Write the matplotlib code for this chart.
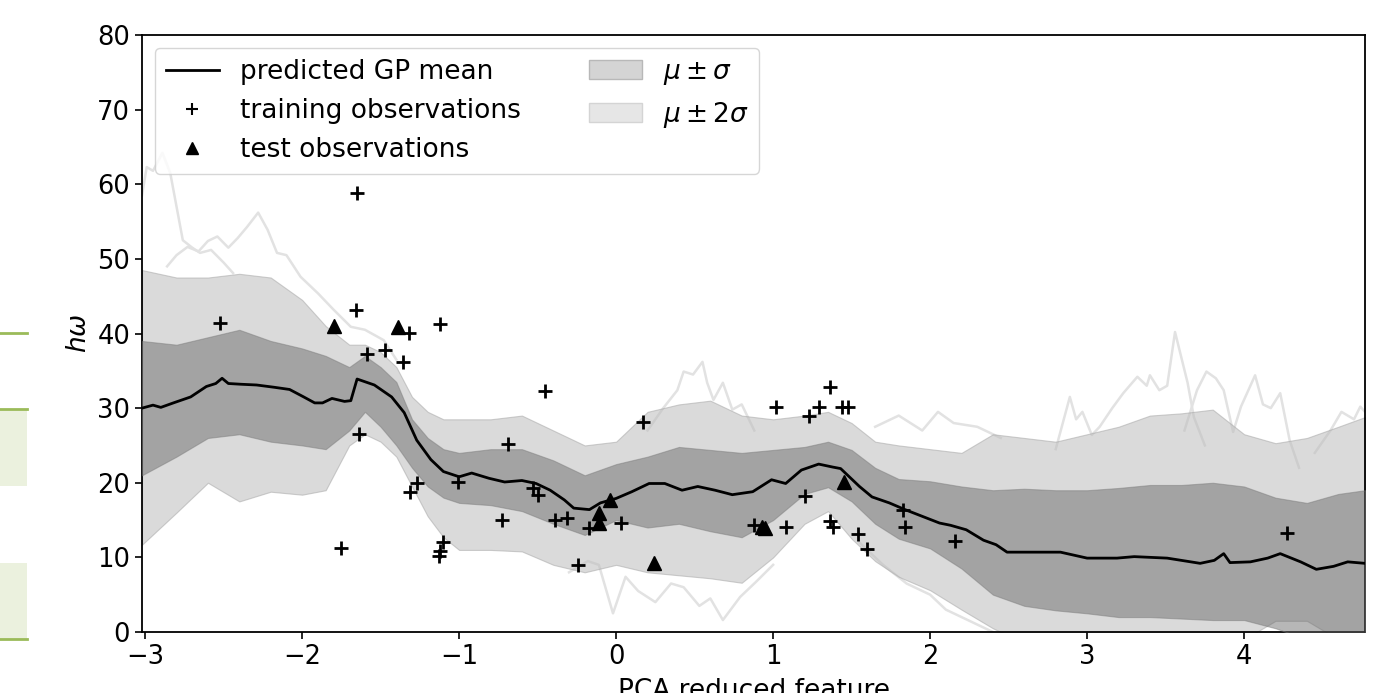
import matplotlib
matplotlib.use("Agg")
import matplotlib.pyplot as plt
from matplotlib.lines import Line2D
from matplotlib.patches import Patch, Rectangle

# ---------------- data ----------------
mean_x = [-3.02, -2.95, -2.9, -2.82, -2.71, -2.61, -2.55, -2.51, -2.47, -2.39, -2.29, -2.18, -2.08,
          -1.99, -1.92, -1.87, -1.81, -1.73, -1.69, -1.65, -1.54, -1.43, -1.35, -1.27, -1.18, -1.1,
          -1.0, -0.92, -0.81, -0.71, -0.6, -0.51, -0.42, -0.33, -0.27, -0.17, -0.1, 0.0, 0.1, 0.21,
          0.31, 0.42, 0.52, 0.63, 0.74, 0.87, 0.99, 1.08, 1.18, 1.29, 1.38, 1.43, 1.55, 1.63, 1.74,
          1.84, 1.95, 2.06, 2.13, 2.23, 2.34, 2.42, 2.49, 2.66, 2.83, 3.0, 3.19, 3.3, 3.51, 3.72,
          3.81, 3.87, 3.91, 4.04, 4.15, 4.23, 4.36, 4.46, 4.57, 4.66, 4.77]
mean_y = [30.0, 30.4, 30.1, 30.7, 31.5, 32.9, 33.3, 34.0, 33.3, 33.2, 33.1, 32.8, 32.5,
          31.5, 30.7, 30.7, 31.3, 30.9, 31.0, 33.9, 33.1, 31.5, 29.4, 25.7, 23.1, 21.5,
          20.8, 21.3, 20.6, 20.1, 20.3, 19.9, 19.0, 17.7, 16.6, 16.4, 17.3, 17.9, 18.8, 19.9,
          19.9, 19.0, 19.5, 19.0, 18.4, 18.8, 20.4, 19.9, 21.7, 22.5, 22.1, 21.9, 19.5, 18.1, 17.3,
          16.4, 15.5, 14.6, 14.3, 13.7, 12.3, 11.7, 10.7, 10.7, 10.7, 9.9, 9.9, 10.1, 9.9, 9.2,
          9.6, 10.5, 9.3, 9.4, 9.9, 10.5, 9.4, 8.4, 8.8, 9.4, 9.2]

band_x = [-3.02, -2.8, -2.6, -2.4, -2.2, -2.0, -1.85, -1.7, -1.6, -1.5, -1.4, -1.3, -1.2, -1.1, -1.0,
          -0.8, -0.6, -0.4, -0.2, 0.0, 0.2, 0.4, 0.6, 0.8, 1.0, 1.2, 1.35, 1.5, 1.65, 1.8, 2.0, 2.2,
          2.4, 2.6, 2.8, 3.0, 3.2, 3.4, 3.6, 3.8, 4.0, 4.2, 4.4, 4.6, 4.77]
upper_2sigma = [48.5, 47.5, 47.5, 48.0, 47.5, 44.5, 41.0, 38.5, 38.5, 37.5, 35.5, 31.5, 29.5, 28.5, 28.5,
                28.5, 29.0, 27.0, 25.0, 25.5, 29.5, 30.5, 31.0, 29.0, 28.5, 29.0, 29.5, 28.0, 25.5, 25.0,
                24.5, 24.0, 26.5, 26.0, 25.5, 26.5, 27.5, 29.0, 29.3, 29.8, 26.5, 25.3, 26.0, 27.5, 28.8]
upper_1sigma = [39.0, 38.5, 39.5, 40.5, 39.0, 38.0, 37.0, 35.5, 37.0, 35.5, 33.5, 28.5, 26.0, 24.5, 24.0,
                24.5, 24.5, 23.0, 21.0, 22.5, 23.5, 24.8, 24.4, 24.0, 24.4, 24.8, 25.5, 24.4, 22.0, 20.5,
                20.2, 19.5, 19.0, 19.2, 19.0, 19.0, 19.3, 19.7, 19.7, 20.0, 19.5, 18.0, 17.3, 18.5, 19.0]
lower_1sigma = [21.0, 23.5, 26.0, 26.5, 25.5, 25.0, 24.5, 27.0, 29.5, 27.5, 25.0, 22.0, 19.5, 18.0, 17.3,
                17.0, 16.2, 14.5, 13.0, 15.0, 14.0, 14.5, 13.5, 12.7, 15.0, 18.5, 19.4, 17.5, 14.5, 12.5,
                11.2, 8.5, 5.0, 3.5, 2.9, 2.5, 2.0, 2.0, 1.8, 1.6, 1.6, 0.5, -1.0, -1.0, -0.5]
lower_2sigma = [11.7, 16.0, 20.0, 17.5, 18.8, 18.4, 19.0, 25.0, 26.5, 25.5, 23.5, 19.5, 15.5, 12.7, 11.0,
                11.0, 10.8, 9.0, 8.0, 9.0, 8.0, 7.6, 7.2, 6.6, 10.0, 14.5, 16.2, 12.5, 9.5, 7.4,
                5.6, 3.0, 0.5, -1.5, -3.0, -3.0, -3.0, -3.0, -3.0, -3.0, -1.0, 1.5, 1.5, -1.0, -3.0]

train_x = [-2.52, -1.65, -1.66, -1.75, -1.64, -1.59, -1.47, -1.32, -1.36, -1.12, -1.27, -1.31, -1.01,
           -1.10, -1.12, -1.13, -0.69, -0.45, -0.73, -0.53, -0.50, -0.39, -0.31, -0.24, -0.17, 0.03,
           0.17, 0.88, 1.02, 1.08, 1.20, 1.23, 1.29, 1.36, 1.44, 1.48, 1.36, 1.38, 1.54, 1.60, 1.83,
           1.84, 2.16, 4.27]
train_y = [41.4, 58.8, 43.2, 11.3, 26.5, 37.3, 37.8, 40.1, 36.2, 41.3, 20.0, 18.8, 20.1,
           12.1, 10.9, 10.2, 25.2, 32.3, 15.0, 19.3, 18.4, 15.0, 15.3, 9.0, 13.9, 14.6,
           28.2, 14.3, 30.2, 14.1, 18.2, 29.0, 30.2, 32.8, 30.2, 30.2, 14.9, 14.1, 13.1, 11.1, 16.4,
           14.1, 12.2, 13.3]

test_x = [-1.80, -1.39, -0.04, -0.11, -0.11, 0.24, 0.93, 0.95, 1.45]
test_y = [41.0, 40.9, 17.7, 15.9, 14.6, 9.2, 14.1, 14.0, 20.1]

# faint GP sample paths (only the parts visible outside the bands)
sample_a_x = [-3.02, -2.99, -2.95, -2.89, -2.84, -2.80, -2.76, -2.70, -2.65, -2.58, -2.50, -2.44]
sample_a_y = [58.5, 62.3, 61.8, 64.2, 61.5, 57.0, 52.5, 51.5, 50.8, 51.2, 49.5, 48.1]
sample_b_x = [-2.86, -2.80, -2.73, -2.66, -2.60, -2.54, -2.47, -2.41, -2.35, -2.28, -2.22, -2.16, -2.10,
              -2.01, -1.90, -1.80, -1.69, -1.60, -1.48, -1.40]
sample_b_y = [49.0, 50.5, 51.6, 51.0, 52.4, 53.0, 51.5, 52.8, 54.3, 56.2, 53.9, 50.8, 50.5,
              47.6, 45.4, 43.2, 40.9, 40.5, 39.1, 36.5]
sample_c_x = [2.80, 2.89, 2.93, 2.97, 3.03, 3.08, 3.16, 3.23, 3.32, 3.38, 3.40, 3.46, 3.51, 3.56, 3.64,
              3.68, 3.75]
sample_c_y = [24.5, 31.5, 28.5, 29.5, 26.4, 27.5, 30.0, 32.0, 34.2, 33.0, 34.4, 32.4, 33.0, 40.2, 33.4,
              28.8, 25.0]
sample_d_x = [3.62, 3.70, 3.76, 3.82, 3.87, 3.93, 3.98, 4.07, 4.12, 4.17, 4.23, 4.29, 4.35]
sample_d_y = [27.0, 32.4, 34.9, 34.0, 32.4, 26.8, 30.2, 34.4, 30.5, 30.0, 32.0, 25.7, 22.0]
sample_e_x = [0.20, 0.30, 0.39, 0.43, 0.49, 0.55, 0.58, 0.62, 0.68, 0.74, 0.80, 0.88]
sample_e_y = [27.0, 30.0, 32.4, 34.9, 34.5, 36.2, 33.4, 31.1, 33.4, 29.8, 30.5, 27.0]
sample_f_x = [-0.30, -0.18, -0.11, -0.02, 0.06, 0.14, 0.25, 0.35, 0.43, 0.53, 0.60, 0.68, 0.79, 0.89, 1.00]
sample_f_y = [8.0, 9.5, 9.0, 2.5, 7.4, 5.5, 4.0, 6.5, 6.0, 3.5, 4.5, 1.6, 4.7, 6.7, 9.0]
sample_g_x = [1.55, 1.70, 1.85, 2.00, 2.10, 2.25, 2.40]
sample_g_y = [12.0, 9.0, 6.5, 5.0, 3.0, 1.5, 0.0]
sample_h_x = [4.45, 4.55, 4.62, 4.70, 4.74, 4.77]
sample_h_y = [24.0, 27.0, 29.5, 28.5, 30.2, 29.5]
sample_i_x = [1.65, 1.80, 1.95, 2.05, 2.15, 2.30, 2.45]
sample_i_y = [27.5, 29.0, 27.0, 29.5, 28.0, 27.5, 26.0]

x_ticks = [-3, -2, -1, 0, 1, 2, 3, 4]
y_ticks = [0, 10, 20, 30, 40, 50, 60, 70, 80]

# ---------------- figure ----------------
W, H = 1383, 693
fig = plt.figure(figsize=(W / 100, H / 100), dpi=100)
ax = fig.add_axes([142 / W, 1 - 632 / H, (1365 - 142) / W, (632 - 35) / H])

FS = 19
TFS = 18.5

samples = [(sample_a_x, sample_a_y), (sample_b_x, sample_b_y), (sample_c_x, sample_c_y),
           (sample_d_x, sample_d_y), (sample_e_x, sample_e_y), (sample_f_x, sample_f_y),
           (sample_g_x, sample_g_y), (sample_h_x, sample_h_y), (sample_i_x, sample_i_y)]
for sx, sy in samples:
    ax.plot(sx, sy, color='#e2e2e2', lw=1.8, zorder=1)

ax.fill_between(band_x, lower_2sigma, upper_2sigma, facecolor='#bdbdbd', alpha=0.55,
                edgecolor='#a8a8a8', linewidth=0.8, zorder=2)
ax.fill_between(band_x, lower_1sigma, upper_1sigma, facecolor='#666666', alpha=0.47,
                edgecolor='#7a7a7a', linewidth=0.8, zorder=3)

ax.plot(mean_x, mean_y, color='black', lw=2, zorder=5)
ax.plot(train_x, train_y, linestyle='none', marker='+', markersize=10, mew=2,
        color='black', zorder=6)
ax.plot(test_x, test_y, linestyle='none', marker='^', markersize=10,
        color='black', zorder=6)

ax.set_xlim(-3.02, 4.77)
ax.set_ylim(0, 80)
ax.set_xticks(x_ticks)
ax.set_yticks(y_ticks)
ax.tick_params(labelsize=TFS, width=1.2, length=5)
for s in ax.spines.values():
    s.set_linewidth(1.3)
ax.set_ylabel(r'$h\omega$', fontsize=FS)
ax.set_xlabel('PCA reduced feature', fontsize=FS, labelpad=6)

handles = [Line2D([], [], color='black', lw=2),
           Line2D([], [], color='black', marker='+', linestyle='none', markersize=8, mew=1.5),
           Line2D([], [], color='black', marker='^', linestyle='none', markersize=8),
           Patch(facecolor='#d4d4d4', edgecolor='#b8b8b8'),
           Patch(facecolor='#e6e6e6', edgecolor='#d4d4d4')]
labels = ['predicted GP mean', 'training observations', 'test observations',
          r'$\mu \pm \sigma$', r'$\mu \pm 2\sigma$']
ax.legend(handles, labels, loc='upper left', ncol=2, fontsize=FS, columnspacing=2.6)

# green page decorations on the left edge
green = '#9bbb59'
pale = '#ebf1de'
fig.add_artist(Rectangle((0, 1 - 486 / H), 27 / W, 77 / H, transform=fig.transFigure,
                         facecolor=pale, edgecolor='none'))
fig.add_artist(Rectangle((0, 1 - 639 / H), 27 / W, 76 / H, transform=fig.transFigure,
                         facecolor=pale, edgecolor='none'))
for py in (333, 409, 639):
    fig.add_artist(Line2D([0, 27 / W], [1 - py / H, 1 - py / H], transform=fig.transFigure,
                          color=green, lw=2))

fig.savefig('out.png', dpi=100)
